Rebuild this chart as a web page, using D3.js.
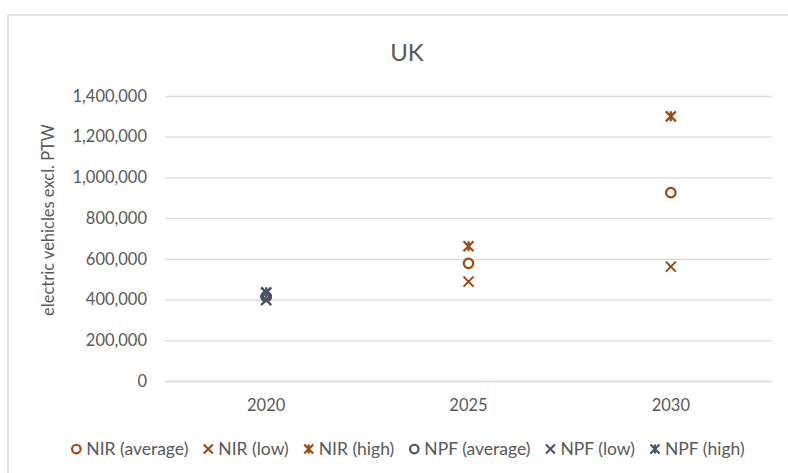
<!DOCTYPE html>
<html><head><meta charset="utf-8">
<script src="https://cdn.jsdelivr.net/npm/d3@7/dist/d3.min.js"></script>
<style>body{margin:0;background:#fff;}svg{display:block;font-family:Lato,"Open Sans",sans-serif;}</style>
</head><body><svg id="c" width="788" height="473"></svg>
<script>
const categories = ["2020", "2025", "2030"];
const nirAverage = [415000, 578000, 925000];
const nirLow = [398000, 488000, 562000];
const nirHigh = [435000, 662000, 1300000];
const npfAverage = [415000, null, null];
const npfLow = [398000, null, null];
const npfHigh = [435000, null, null];
const yTicks = [0, 200000, 400000, 600000, 800000, 1000000, 1200000, 1400000];

const series = [
  {name: "NIR (average)", values: nirAverage, shape: "circle", color: "#9E480E"},
  {name: "NIR (low)", values: nirLow, shape: "x", color: "#9E480E"},
  {name: "NIR (high)", values: nirHigh, shape: "star", color: "#9E480E"},
  {name: "NPF (average)", values: npfAverage, shape: "circle", color: "#44546A"},
  {name: "NPF (low)", values: npfLow, shape: "x", color: "#44546A"},
  {name: "NPF (high)", values: npfHigh, shape: "star", color: "#44546A"}
];

const svg = d3.select("#c");
svg.append("rect").attr("x", 8).attr("y", 15).attr("width", 790).attr("height", 470)
  .attr("fill", "#fff").attr("stroke", "#d9d9d9").attr("stroke-width", 1.5);

const pL = 165, pR = 772, pT = 96, pB = 381;
const x = d3.scaleBand().domain(categories).range([pL, pR]);
const y = d3.scaleLinear().domain([0, 1400000]).range([pB, pT]);

svg.append("text").attr("x", 407).attr("y", 61).attr("text-anchor", "middle")
  .attr("font-size", 24).attr("fill", "#595959").text("UK");

const ya = svg.append("g").attr("transform", `translate(${pL},0)`)
  .call(d3.axisLeft(y).tickValues(yTicks).tickSize(-(pR - pL)).tickPadding(18)
    .tickFormat(d3.format(",")));
ya.select(".domain").remove();
ya.selectAll(".tick line").attr("stroke", "#d9d9d9").attr("stroke-width", 1.3);
ya.selectAll(".tick text").attr("font-size", 16.5).attr("fill", "#595959").attr("font-family", "Lato,sans-serif");

const xa = svg.append("g").attr("transform", `translate(0,${pB})`)
  .call(d3.axisBottom(x).tickSize(0).tickPadding(18));
xa.select(".domain").remove();
xa.selectAll(".tick text").attr("font-size", 16.5).attr("fill", "#595959").attr("font-family", "Lato,sans-serif");

svg.append("text").attr("transform", `translate(54,220) rotate(-90)`)
  .attr("text-anchor", "middle").attr("font-size", 16.5).attr("fill", "#595959")
  .text("electric vehicles excl. PTW");

function drawMarker(g, shape, color, s) {
  if (shape === "circle") {
    g.append("circle").attr("r", s * 0.95).attr("fill", "none").attr("stroke", color).attr("stroke-width", 2.2);
  } else if (shape === "x") {
    g.append("path").attr("d", `M${-s},${-s}L${s},${s}M${-s},${s}L${s},${-s}`)
      .attr("stroke", color).attr("stroke-width", 2).attr("fill", "none");
  } else {
    g.append("path").attr("d", `M${-s},${-s}L${s},${s}M${-s},${s}L${s},${-s}M0,${-s}L0,${s}`)
      .attr("stroke", color).attr("stroke-width", 2.2).attr("fill", "none");
  }
}

series.forEach(sr => {
  sr.values.forEach((v, i) => {
    if (v == null) return;
    const g = svg.append("g").attr("transform", `translate(${x(categories[i]) + x.bandwidth() / 2},${y(v)})`);
    drawMarker(g, sr.shape, sr.color, 5);
  });
});

// legend
const lg = svg.append("g");
let cx = 0;
series.forEach(sr => {
  const g = lg.append("g").attr("transform", `translate(${cx},0)`);
  drawMarker(g.append("g").attr("transform", "translate(5,0)"), sr.shape, sr.color, 4.5);
  const t = g.append("text").attr("x", 15).attr("y", 6).attr("font-size", 17.5).attr("fill", "#595959").text(sr.name);
  cx += 15 + t.node().getComputedTextLength() + 15;
});
const lw = cx - 15;
lg.attr("transform", `translate(${408 - lw / 2},449)`);
</script></body></html>
